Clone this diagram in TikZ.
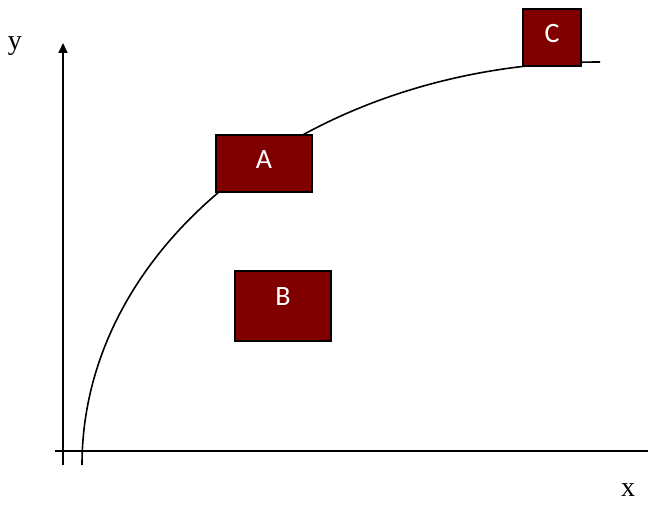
\documentclass[tikz,border=0pt]{standalone}
\usepackage{fontspec}
\setmainfont{Liberation Serif}
\newfontfamily\boxfont{Carlito}
\usetikzlibrary{arrows.meta, positioning}
\definecolor{boxred}{RGB}{128,0,0}

\begin{document}
\begin{tikzpicture}[x=1pt, y=1pt,
		axis/.style={line width=1.9pt, draw=black},
		arrow/.style={-{Triangle[length=10pt, width=9pt]}},
		curve/.style={line width=1.6pt},
		box/.style={draw=black, fill=boxred, line width=2.6pt, inner sep=0pt},
		boxlabel/.style={text=white, font=\boxfont\fontsize{28}{32}\selectfont, inner sep=0pt},
		axislabel/.style={font=\fontsize{28}{32}\selectfont, inner sep=0pt}
	]
		\useasboundingbox (0,0) rectangle (648,504);
		% axes
		\coordinate (o) at (63,39);
		\coordinate (ytop) at (63,461);
		\coordinate (xl) at (55,53);
		\coordinate (xr) at (648,53);
		\draw[axis, arrow] (o) -- (ytop);
		\draw[axis] (xl) -- (xr);
		\node[axislabel] (ylab) at (15,458) {y};
		\node[axislabel] (xlab) at (628,14) {x};
		% curve
		\coordinate (cs) at (82,39);
		\draw[curve] (cs) arc[start angle=180, end angle=90, x radius=518, y radius=403];
		% boxes
		\node[box, minimum width=96pt, minimum height=57pt] (A) at (264,340.5) {};
		\node[box, minimum width=96pt, minimum height=70pt] (B) at (283,198) {};
		\node[box, minimum width=58pt, minimum height=57pt] (C) at (552,466.5) {};
		\node[boxlabel] (At) at ([yshift=4pt]A.center) {A};
		\node[boxlabel] (Bt) at ([yshift=9pt]B.center) {B};
		\node[boxlabel] (Ct) at ([yshift=4pt]C.center) {C};
	\end{tikzpicture}
\end{document}
